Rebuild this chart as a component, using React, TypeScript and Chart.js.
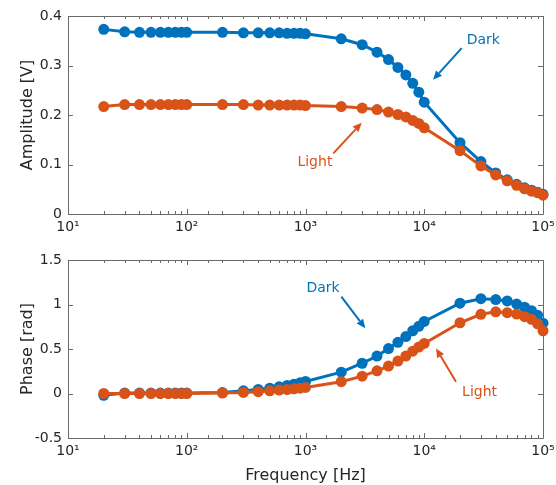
import React, { useEffect, useRef } from 'react';
import { Chart, registerables } from 'chart.js';

Chart.register(...registerables);

// ---------- data ----------
const frequencies = [
  20, 30, 40, 50, 60, 70, 80, 90, 100,
  200, 300, 400, 500, 600, 700, 800, 900, 1000,
  2000, 3000, 4000, 5000, 6000, 7000, 8000, 9000, 10000,
  20000, 30000, 40000, 50000, 60000, 70000, 80000, 90000, 100000,
];

const ampDark = [
  0.373, 0.368, 0.367, 0.367, 0.367, 0.367, 0.367, 0.367, 0.367,
  0.367, 0.366, 0.366, 0.366, 0.366, 0.365, 0.365, 0.365, 0.364,
  0.354, 0.342, 0.327, 0.312, 0.296, 0.281, 0.264, 0.246, 0.226,
  0.144, 0.106, 0.083, 0.069, 0.060, 0.053, 0.048, 0.044, 0.040,
];

const ampLight = [
  0.217, 0.221, 0.221, 0.221, 0.221, 0.221, 0.221, 0.221, 0.221,
  0.221, 0.221, 0.220, 0.220, 0.220, 0.220, 0.220, 0.220, 0.219,
  0.217, 0.214, 0.211, 0.206, 0.201, 0.196, 0.189, 0.183, 0.174,
  0.128, 0.097, 0.079, 0.067, 0.058, 0.051, 0.046, 0.043, 0.038,
];

const phaseDark = [
  -0.02, 0.005, 0.005, 0.005, 0.005, 0.005, 0.005, 0.005, 0.005,
  0.01, 0.03, 0.045, 0.06, 0.075, 0.09, 0.105, 0.12, 0.135,
  0.24, 0.34, 0.42, 0.505, 0.575, 0.64, 0.705, 0.755, 0.81,
  1.015, 1.065, 1.055, 1.04, 1.005, 0.97, 0.93, 0.88, 0.79,
];

const phaseLight = [
  0.0, 0.0, 0.0, 0.0, 0.0, 0.0, 0.0, 0.0, 0.0,
  0.005, 0.012, 0.02, 0.03, 0.038, 0.045, 0.052, 0.06, 0.068,
  0.133, 0.195, 0.255, 0.308, 0.365, 0.42, 0.475, 0.522, 0.562,
  0.795, 0.89, 0.918, 0.908, 0.893, 0.863, 0.833, 0.783, 0.705,
];

const ampTicks = [0, 0.1, 0.2, 0.3, 0.4];
const phaseTicks = [-0.5, 0, 0.5, 1, 1.5];
const superscripts: Record<string, string> = { '0': '⁰', '1': '¹', '2': '²', '3': '³', '4': '⁴', '5': '⁵', '6': '⁶', '7': '⁷', '8': '⁸', '9': '⁹' };

const BLUE = '#0072BD';
const ORANGE = '#D95319';
const AXIS = '#6b6b6b';
const TEXT = '#262626';
const FONT = "'DejaVu Sans', sans-serif";

type Note = { text: string; color: string; tx: number; ty: number; from: [number, number]; to: [number, number] };

const ampNotes: Note[] = [
  { text: 'Dark', color: BLUE, tx: 31400, ty: 0.350, from: [20650, 0.335], to: [11850, 0.271] },
  { text: 'Light', color: ORANGE, tx: 1200, ty: 0.104, from: [1715, 0.1226], to: [2973, 0.1844] },
];

const phaseNotes: Note[] = [
  { text: 'Dark', color: BLUE, tx: 1404, ty: 1.182, from: [2003, 1.088], to: [3190, 0.732] },
  { text: 'Light', color: ORANGE, tx: 29240, ty: 0.018, from: [18500, 0.131], to: [12560, 0.507] },
];

// ---------- helpers ----------
const isPow10 = (v: number) => Math.abs(Math.log10(v) - Math.round(Math.log10(v))) < 1e-9;
const powLabel = (v: number) =>
  '10' + String(Math.round(Math.log10(v))).split('').map((c) => superscripts[c] || c).join('');

const framePlugin = {
  id: 'frame',
  beforeDatasetsDraw(chart: any) {
    const { ctx, chartArea } = chart;
    const { left, right, top, bottom } = chartArea;
    const xs = chart.scales.x;
    const ys = chart.scales.y;
    ctx.save();
    ctx.strokeStyle = AXIS;
    ctx.lineWidth = 1;
    ctx.beginPath();
    ctx.rect(Math.round(left) + 0.5, Math.round(top) + 0.5, Math.round(right - left), Math.round(bottom - top));
    ctx.stroke();
    ctx.beginPath();
    for (const t of xs.ticks) {
      const px = Math.round(xs.getPixelForValue(t.value)) + 0.5;
      const len = isPow10(t.value) ? 5 : 3;
      ctx.moveTo(px, bottom);
      ctx.lineTo(px, bottom - len);
      ctx.moveTo(px, top);
      ctx.lineTo(px, top + len);
    }
    for (const t of ys.ticks) {
      const py = Math.round(ys.getPixelForValue(t.value)) + 0.5;
      ctx.moveTo(left, py);
      ctx.lineTo(left + 5, py);
      ctx.moveTo(right, py);
      ctx.lineTo(right - 5, py);
    }
    ctx.stroke();
    ctx.restore();
  },
};

const notesPlugin = {
  id: 'notes',
  afterDatasetsDraw(chart: any, _args: any, opts: any) {
    const notes: Note[] = opts.notes || [];
    const { ctx } = chart;
    const xs = chart.scales.x;
    const ys = chart.scales.y;
    ctx.save();
    for (const n of notes) {
      ctx.fillStyle = n.color;
      ctx.strokeStyle = n.color;
      ctx.font = `14px ${FONT}`;
      ctx.textAlign = 'center';
      ctx.textBaseline = 'middle';
      ctx.fillText(n.text, xs.getPixelForValue(n.tx), ys.getPixelForValue(n.ty));
      const x1 = xs.getPixelForValue(n.from[0]);
      const y1 = ys.getPixelForValue(n.from[1]);
      const x2 = xs.getPixelForValue(n.to[0]);
      const y2 = ys.getPixelForValue(n.to[1]);
      const ang = Math.atan2(y2 - y1, x2 - x1);
      const head = 9;
      const hw = 4;
      const bx = x2 - head * Math.cos(ang);
      const by = y2 - head * Math.sin(ang);
      ctx.lineWidth = 2;
      ctx.beginPath();
      ctx.moveTo(x1, y1);
      ctx.lineTo(bx, by);
      ctx.stroke();
      ctx.beginPath();
      ctx.moveTo(x2, y2);
      ctx.lineTo(bx + hw * Math.sin(ang), by - hw * Math.cos(ang));
      ctx.lineTo(bx - hw * Math.sin(ang), by + hw * Math.cos(ang));
      ctx.closePath();
      ctx.fill();
    }
    ctx.restore();
  },
};

function buildConfig(opts: {
  dark: number[];
  light: number[];
  yMin: number;
  yMax: number;
  yTicks: number[];
  yTitle: string;
  padTop: number;
  xHeight: number;
  xTitle?: string;
  notes: Note[];
}): any {
  const ds = (label: string, data: number[], color: string, order: number) => ({
    label,
    data: frequencies.map((f, i) => ({ x: f, y: data[i] })),
    borderColor: color,
    backgroundColor: color,
    borderWidth: 3,
    pointRadius: 5.5,
    pointBorderWidth: 0,
    pointBackgroundColor: color,
    tension: 0,
    clip: false,
    order,
  });
  return {
    type: 'line',
    data: {
      datasets: [ds('Dark', opts.dark, BLUE, 1), ds('Light', opts.light, ORANGE, 0)],
    },
    options: {
      responsive: false,
      animation: false,
      devicePixelRatio: 1,
      layout: { padding: { left: 0, right: 13, top: opts.padTop, bottom: 0 } },
      plugins: {
        legend: { display: false },
        tooltip: { enabled: false },
        notes: { notes: opts.notes },
      },
      scales: {
        x: {
          type: 'logarithmic',
          min: 10,
          max: 100000,
          grid: { display: false, drawTicks: false },
          border: { display: false },
          afterFit: (s: any) => {
            s.height = opts.xHeight;
            s.paddingLeft = 0;
            s.paddingRight = 0;
          },
          ticks: {
            autoSkip: false,
            maxRotation: 0,
            padding: 5,
            color: TEXT,
            font: { family: FONT, size: 14 },
            callback: (v: any) => (isPow10(Number(v)) ? powLabel(Number(v)) : ''),
          },
          title: opts.xTitle
            ? { display: true, text: opts.xTitle, color: TEXT, font: { family: FONT, size: 16 }, padding: { top: 0, bottom: 0 } }
            : { display: false },
        },
        y: {
          type: 'linear',
          min: opts.yMin,
          max: opts.yMax,
          grid: { display: false, drawTicks: false },
          border: { display: false },
          afterBuildTicks: (s: any) => {
            s.ticks = opts.yTicks.map((v) => ({ value: v }));
          },
          afterFit: (s: any) => {
            s.width = 68;
            s.paddingTop = 0;
            s.paddingBottom = 0;
          },
          ticks: {
            padding: 6,
            color: TEXT,
            font: { family: FONT, size: 14 },
            callback: (v: any) => String(Number(Number(v).toFixed(2))),
          },
          title: {
            display: true,
            text: opts.yTitle,
            color: TEXT,
            font: { family: FONT, size: 16 },
            padding: { top: 18.4, bottom: 0 },
          },
        },
      },
    },
    plugins: [framePlugin, notesPlugin],
  };
}

function ChartCanvas({ config, width, height, top }: { config: any; width: number; height: number; top: number }) {
  const ref = useRef<HTMLCanvasElement | null>(null);
  useEffect(() => {
    if (!ref.current) return;
    const chart = new Chart(ref.current, config);
    return () => chart.destroy();
  }, [config]);
  return (
    <canvas
      ref={ref}
      width={width}
      height={height}
      style={{ position: 'absolute', left: 0, top, width, height, display: 'block' }}
    />
  );
}

const ampConfig = buildConfig({
  dark: ampDark,
  light: ampLight,
  yMin: 0,
  yMax: 0.4,
  yTicks: ampTicks,
  yTitle: 'Amplitude [V]',
  padTop: 16,
  xHeight: 26,
  notes: ampNotes,
});

const phaseConfig = buildConfig({
  dark: phaseDark,
  light: phaseLight,
  yMin: -0.5,
  yMax: 1.5,
  yTicks: phaseTicks,
  yTitle: 'Phase [rad]',
  padTop: 20,
  xHeight: 47,
  xTitle: 'Frequency [Hz]',
  notes: phaseNotes,
});

export default function App() {
  useEffect(() => {
    Chart.defaults.font.family = FONT;
  }, []);
  return (
    <div style={{ position: 'fixed', left: 0, top: 0, width: 556, height: 485, background: '#fff' }}>
      <ChartCanvas config={ampConfig} width={556} height={240} top={0} />
      <ChartCanvas config={phaseConfig} width={556} height={245} top={240} />
    </div>
  );
}
